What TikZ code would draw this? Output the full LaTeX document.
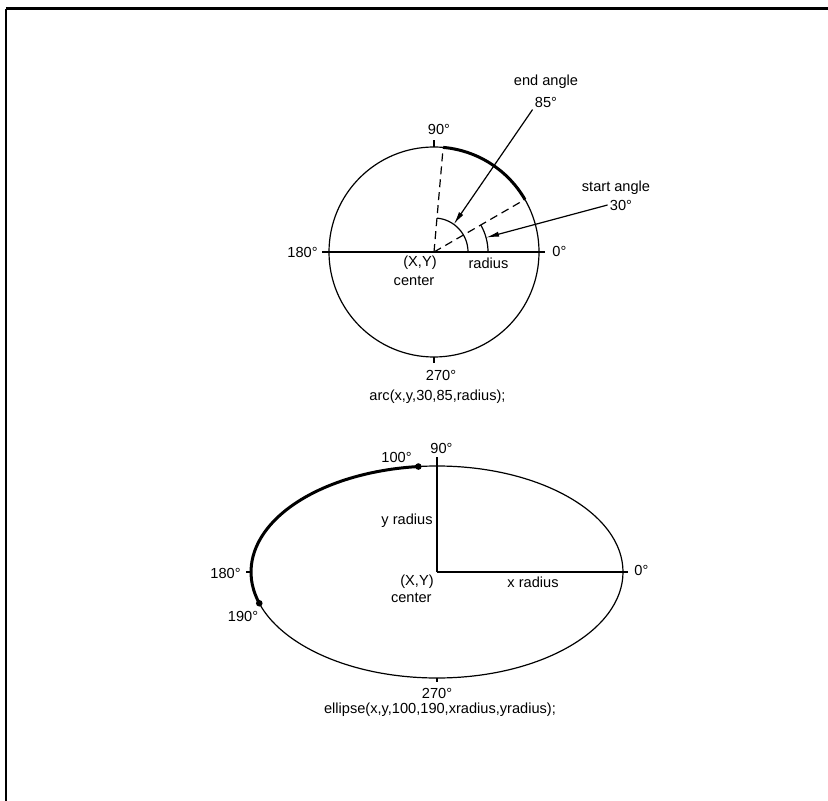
\documentclass[tikz,border=0pt]{standalone}
\usepackage{fontspec}
\setmainfont{Liberation Sans}
\usetikzlibrary{arrows.meta,positioning,calc}

\begin{document}
\begin{tikzpicture}[x=0.5pt, y=-0.5pt,
	lbl/.style={font=\fontsize{7.3}{8.5}\selectfont, inner sep=1pt},
	hair/.style={line width=0.6pt},
	heavy/.style={line width=1.5pt},
	radial/.style={line width=0.6pt, dash pattern=on 4pt off 2.5pt},
	pointer/.style={line width=0.6pt, -{Latex[length=6.5pt,width=2.6pt]}}]
	\useasboundingbox (0,0) rectangle (828,801);
	\fill[white] (0,0) rectangle (828,801);

	\draw[heavy] (6,9) -- (828,9);
	\draw[line width=0.75pt] (6,9) -- (6,801);

	\begin{scope}[shift={(434,252)}, y=0.5pt]
		\draw[hair] (0,0) circle[radius=105];
		\draw[hair] (-112,0) -- (111,0);
		\draw[hair] (0,105) -- (0,112);
		\draw[hair] (0,-105) -- (0,-111);
		\draw[radial] (0,0) -- (85:105);
		\draw[radial] (0,0) -- (30:105);
		\draw[heavy] (30:105) arc[start angle=30, end angle=85, radius=105];
		\draw[hair] (34,0) arc[start angle=0, end angle=85, radius=34];
		\draw[hair] (54,0) arc[start angle=0, end angle=30, radius=54];
		\coordinate (p) at (54.5:34);
		\coordinate (q) at (15.5:54);
	\end{scope}

	\node[lbl, anchor=east] (w) at (320,252) {180°};
	\node[lbl, anchor=west] (e) at (550,251) {0°};
	\node[lbl] (n) at (439,129) {90°};
	\node[lbl] (s) at (441,375) {270°};
	\node[lbl] (o) at (420,263) {(X,Y)};
	\node[lbl] (c) at (414,281) {center};
	\node[lbl] (r) at (488.5,263) {radius};
	\node[lbl] (a) at (437.5,397) {arc(x,y,30,85,radius);};
	\node[lbl] (ea) at (546,82) {end angle};
	\node[lbl] (eb) at (546,102) {85°};
	\node[lbl] (sa) at (616,188) {start angle};
	\node[lbl] (sb) at (621,205) {30°};

	\draw[pointer] (eb.south west) -- (p);
	\draw[pointer] (sb.west) -- (q);

	\begin{scope}[shift={(437,572)}, y=0.5pt]
		\draw[hair] (0,0) ellipse[x radius=186, y radius=106];
		\draw[hair] (0,0) -- (0,115);
		\draw[hair] (0,0) -- (191,0);
		\draw[hair] (-186,0) -- (-191,0);
		\draw[hair] (0,-106) -- (0,-110);
		\draw[heavy] (95.75:186 and 106) arc[start angle=95.75, end angle=197.15, x radius=186, y radius=106];
		\fill (95.75:186 and 106) circle[radius=3.3];
		\fill (197.15:186 and 106) circle[radius=3.3];
	\end{scope}

	\node[lbl, anchor=east] (t) at (414,457) {100°};
	\node[lbl, anchor=west] (m) at (428,448) {90°};
	\node[lbl, anchor=east] (h) at (243,573) {180°};
	\node[lbl, anchor=west] (z) at (632,570) {0°};
	\node[lbl] (k) at (243,616) {190°};
	\node[lbl, anchor=east] (yr) at (435,521) {y radius};
	\node[lbl] (xr) at (533,582) {x radius};
	\node[lbl, anchor=east] (o2) at (436,582) {(X,Y)};
	\node[lbl, anchor=east] (c2) at (434,598) {center};
	\node[lbl] (u) at (437,693) {270°};
	\node[lbl] (f) at (440,710) {ellipse(x,y,100,190,xradius,yradius);};
\end{tikzpicture}
\end{document}
